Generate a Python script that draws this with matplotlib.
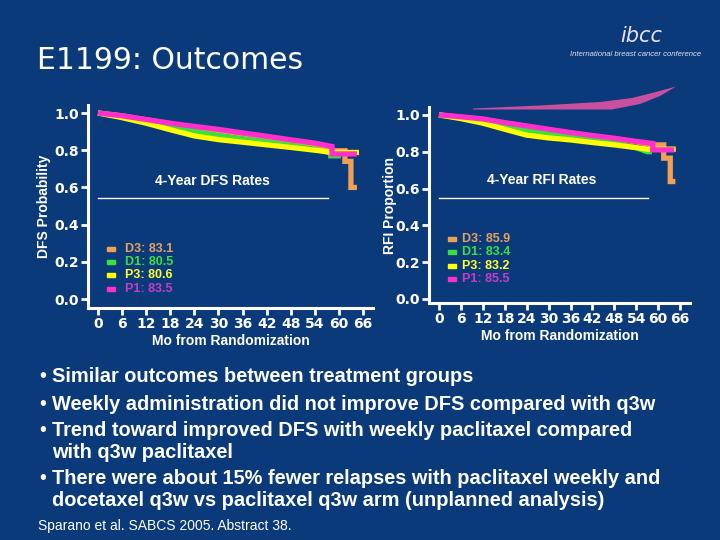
import matplotlib
matplotlib.use('agg')
import matplotlib.pyplot as plt
from matplotlib.patches import Rectangle, Polygon

# ---- data (Kaplan-Meier estimates) ----
# repeated times mark the visible vertical drops of the step curves
arms = ['D3', 'D1', 'P3', 'P1']
colors = {'D3': '#F0A050', 'D1': '#3CE03C', 'P3': '#FFFF00', 'P1': '#FF2ECC'}
text_colors = {'D3': '#E8A060', 'D1': '#3CE03C', 'P3': '#FFFF30', 'P1': '#C83CC8'}

# DFS
dfs_t = {
    'D3': [0, 6, 12, 18, 24, 30, 36, 42, 48, 54, 58.5, 61.5, 61.5, 63.0, 63.0, 64.5],
    'D1': [0, 6, 12, 18, 24, 30, 36, 42, 48, 54, 58.0, 58.0, 60.5],
    'P3': [0, 6, 12, 18, 24, 30, 36, 42, 48, 54, 58.5, 65.0],
    'P1': [0, 6, 12, 18, 24, 30, 36, 42, 48, 54, 58.3, 58.3, 64.5],
}
dfs_s = {
    'D3': [1.0, 0.985, 0.963, 0.942, 0.922, 0.905, 0.887, 0.868, 0.850, 0.830, 0.797, 0.797,
           0.740, 0.740, 0.600, 0.600],
    'D1': [1.0, 0.980, 0.955, 0.930, 0.900, 0.878, 0.860, 0.845, 0.825, 0.805, 0.785, 0.770, 0.770],
    'P3': [1.0, 0.975, 0.945, 0.910, 0.877, 0.857, 0.843, 0.829, 0.815, 0.800, 0.788, 0.788],
    'P1': [1.0, 0.985, 0.965, 0.945, 0.928, 0.912, 0.893, 0.875, 0.856, 0.838, 0.820, 0.780, 0.780],
}
dfs_rates = {'D3': '83.1', 'D1': '80.5', 'P3': '80.6', 'P1': '83.5'}

# RFI
rfi_t = {
    'D3': [0, 6, 12, 18, 24, 30, 36, 42, 48, 54, 58.5, 61.5, 61.5, 63.3, 63.3, 64.7],
    'D1': [0, 6, 12, 18, 24, 30, 36, 42, 48, 54, 57, 58.3],
    'P3': [0, 6, 12, 18, 24, 30, 36, 42, 48, 54, 57, 64.8],
    'P1': [0, 6, 12, 18, 24, 30, 36, 42, 48, 54, 58.5, 58.5, 64.4],
}
rfi_s = {
    'D3': [1.0, 0.987, 0.975, 0.955, 0.937, 0.919, 0.901, 0.885, 0.870, 0.853, 0.837, 0.837,
           0.765, 0.765, 0.638, 0.638],
    'D1': [1.0, 0.983, 0.962, 0.938, 0.915, 0.897, 0.882, 0.864, 0.846, 0.822, 0.800, 0.800],
    'P3': [1.0, 0.980, 0.955, 0.922, 0.890, 0.875, 0.864, 0.850, 0.837, 0.822, 0.814, 0.814],
    'P1': [1.0, 0.990, 0.978, 0.958, 0.940, 0.922, 0.904, 0.888, 0.873, 0.856, 0.845, 0.810, 0.810],
}
rfi_rates = {'D3': '85.9', 'D1': '83.4', 'P3': '83.2', 'P1': '85.5'}

draw_order = ['D3', 'D1', 'P3', 'P1']
xticks = list(range(0, 67, 6))
yticks = [0.0, 0.2, 0.4, 0.6, 0.8, 1.0]

bullets = [
    ['Similar outcomes between treatment groups'],
    ['Weekly administration did not improve DFS compared with q3w'],
    ['Trend toward improved DFS with weekly paclitaxel compared',
     'with q3w paclitaxel'],
    ['There were about 15% fewer relapses with paclitaxel weekly and',
     'docetaxel q3w vs paclitaxel q3w arm (unplanned analysis)'],
]

BG = '#0B3A7B'
W, H = 720, 540


def fx(x):
    return x / W


def fy(y):
    return 1 - y / H


fig = plt.figure(figsize=(7.2, 5.4), dpi=100, facecolor=BG)


def make_axes(rect, t, s, ylabel, xlim, ylim, label_x, xlabel_pad):
    ax = fig.add_axes(rect)
    ax.set_facecolor('none')
    for arm in draw_order:
        ax.plot(t[arm], s[arm], color=colors[arm], lw=3.8,
                solid_joinstyle='miter', solid_capstyle='butt')
    ax.set_xlim(*xlim)
    ax.set_ylim(*ylim)
    ax.set_xticks(xticks)
    ax.set_yticks(yticks)
    ax.set_yticklabels(['%.1f' % v for v in yticks])
    for side in ('top', 'right'):
        ax.spines[side].set_visible(False)
    for side in ('left', 'bottom'):
        ax.spines[side].set_color('white')
        ax.spines[side].set_linewidth(2.2)
    ax.tick_params(direction='out', length=5, width=2, colors='white',
                   labelsize=10, pad=1.5)
    for lab in ax.get_xticklabels() + ax.get_yticklabels():
        lab.set_fontfamily('DejaVu Sans')
        lab.set_fontweight('bold')
    ax.set_xlabel('Mo from Randomization', color='white', fontsize=10,
                  fontweight='bold', family='Liberation Sans', labelpad=xlabel_pad)
    ax.set_ylabel(ylabel, color='white', fontsize=10, fontweight='bold',
                  family='Liberation Sans')
    ax.yaxis.set_label_coords(label_x, 0.5)
    return ax


# left: DFS
ax1 = make_axes([fx(88), fy(308), fx(373) - fx(88), fy(105) - fy(308)],
                dfs_t, dfs_s, 'DFS Probability', (-2.5, 68.5), (-0.048, 1.043),
                -0.13, 2)
ax1.text(28.4, 0.634, '4-Year DFS Rates', color='white', fontsize=10,
         fontweight='bold', family='Liberation Sans', ha='center', va='center')
ax1.plot([0, 57.3], [0.543, 0.543], color='white', lw=1)

# right: RFI
ax2 = make_axes([fx(429), fy(303), fx(690) - fx(429), fy(107) - fy(303)],
                rfi_t, rfi_s, 'RFI Proportion', (-2.74, 68.7), (-0.022, 1.043),
                -0.123, 2.5)
ax2.text(28.0, 0.647, '4-Year RFI Rates', color='white', fontsize=10,
         fontweight='bold', family='Liberation Sans', ha='center', va='center')
ax2.plot([0, 57.3], [0.549, 0.549], color='white', lw=1)

# legends with 4-year rates
legend_rows = [
    (dfs_rates, 107, 125, [249, 262, 275, 289]),
    (rfi_rates, 448, 462, [239, 252, 266, 279]),
]
for rates, mx, tx, rows in legend_rows:
    for arm, yrow in zip(arms, rows):
        fig.add_artist(Rectangle((fx(mx), fy(yrow + 2)), fx(8), 4 / H,
                                 transform=fig.transFigure, color=colors[arm]))
        fig.text(fx(tx), fy(yrow), '%s: %s' % (arm, rates[arm]),
                 color=text_colors[arm], fontsize=9, fontweight='bold',
                 family='Liberation Sans', va='center', ha='left')

# title and logo
fig.text(fx(37), fy(69), 'E1199: Outcomes', color='white', fontsize=21.5,
         family='DejaVu Sans', va='baseline', ha='left')
fig.text(fx(641), fy(36), 'ibcc', color='#E8E0F8', fontsize=15,
         fontstyle='italic', family='DejaVu Sans', va='center', ha='center')
fig.text(fx(636), fy(55), 'International breast cancer conference',
         color='#E0E0F0', fontsize=5.6, fontstyle='italic',
         family='Liberation Sans', va='center', ha='center')
swoosh = [(473, 108.5), (540, 105.5), (600, 102), (632, 98), (656, 92),
          (676, 86.5), (660, 96), (640, 104), (612, 109.5), (540, 109.5),
          (473, 109.5)]
fig.add_artist(Polygon([(fx(x), fy(y)) for x, y in swoosh], closed=True,
                       transform=fig.transFigure, color='#C9509F', lw=0))

# bullet text
baselines = [[382.5], [409.5], [435.5, 457.5], [483.5, 505.5]]
for lines, ys in zip(bullets, baselines):
    fig.text(fx(39), fy(ys[0]), '\u2022', color='white', fontsize=14.4,
             family='Liberation Sans', va='baseline')
    for line, yb in zip(lines, ys):
        fig.text(fx(52), fy(yb), line, color='white', fontsize=14.4,
                 fontweight='bold', family='Liberation Sans', va='baseline')

fig.text(fx(38), fy(530), 'Sparano et al. SABCS 2005. Abstract 38.',
         color='white', fontsize=10, family='Liberation Sans', va='baseline')

fig.savefig('out.png', dpi=100, facecolor=BG)
